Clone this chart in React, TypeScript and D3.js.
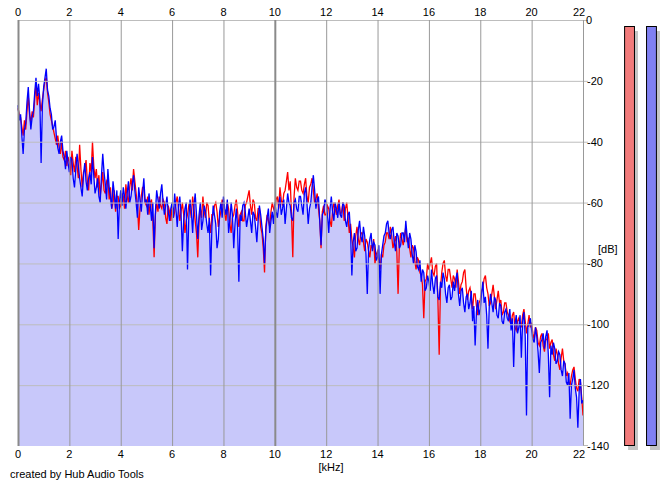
import React from "react";
import * as d3 from "d3";

// spectrum bins every 0.05 kHz, 0..22 kHz (one row = 1 kHz)
const STEP_KHZ = 0.05;

const blueDb = [
  -28, -33, -31, -38, -44, -36, -34, -27, -22, -30, -36, -32, -30, -24, -19, -25, -21, -26, -47, -28,
  -22, -19, -16, -23, -25, -29, -31, -36, -35, -33, -39, -42, -44, -40, -38, -43, -45, -49, -43, -47,
  -50, -45, -46, -52, -55, -49, -44, -48, -52, -55, -58, -51, -47, -53, -56, -52, -50, -54, -45, -51,
  -57, -55, -52, -58, -60, -51, -44, -50, -54, -59, -49, -55, -58, -62, -53, -57, -62, -56, -72, -60,
  -56, -61, -55, -58, -62, -57, -53, -60, -58, -54, -51, -56, -60, -65, -55, -59, -63, -57, -52, -60,
  -59, -64, -57, -61, -66, -60, -75, -63, -56, -59, -62, -57, -54, -60, -64, -61, -58, -63, -66, -62,
  -60, -65, -57, -62, -68, -61, -58, -64, -76, -66, -62, -60, -82, -65, -59, -63, -70, -61, -57, -64,
  -72, -64, -60, -69, -66, -61, -63, -67, -70, -65, -84, -68, -61, -64, -67, -75, -72, -63, -60, -65,
  -58, -62, -64, -59, -70, -66, -60, -64, -75, -67, -62, -68, -86, -64, -66, -61, -60, -63, -68, -65,
  -62, -66, -70, -63, -64, -68, -73, -66, -61, -64, -68, -72, -80, -69, -65, -62, -70, -66, -63, -67,
  -60, -63, -65, -61, -58, -64, -62, -59, -67, -62, -57, -60, -61, -65, -66, -60, -59, -62, -63, -58,
  -58, -61, -64, -57, -55, -60, -67, -62, -60, -55, -51, -56, -62, -59, -58, -66, -74, -64, -63, -59,
  -60, -64, -70, -62, -58, -63, -66, -60, -62, -65, -60, -64, -65, -60, -61, -66, -68, -64, -63, -70,
  -84, -73, -70, -76, -75, -69, -66, -71, -73, -68, -71, -77, -90, -75, -72, -70, -76, -73, -74, -79,
  -78, -74, -90, -77, -74, -71, -70, -67, -66, -70, -72, -69, -68, -73, -76, -70, -71, -75, -74, -70,
  -70, -73, -66, -71, -75, -70, -72, -77, -80, -74, -76, -81, -82, -79, -86, -82, -83, -89, -88, -84,
  -86, -89, -82, -87, -90, -85, -84, -91, -92, -86, -88, -83, -85, -90, -93, -88, -87, -92, -91, -86,
  -89, -85, -83, -90, -94, -89, -88, -93, -96, -91, -90, -95, -93, -89, -99, -94, -107, -96, -92, -97,
  -95, -90, -86, -93, -91, -97, -108, -94, -90, -93, -96, -91, -92, -97, -98, -93, -94, -99, -100, -96,
  -95, -98, -99, -95, -102, -98, -114, -100, -97, -103, -101, -97, -111, -99, -96, -104, -130, -101, -100, -98,
  -102, -105, -106, -101, -104, -109, -116, -106, -105, -103, -108, -104, -102, -110, -124, -107, -110, -106, -108, -113,
  -112, -109, -110, -115, -117, -112, -113, -119, -120, -116, -131, -120, -118, -115, -121, -124, -134, -122, -118, -126,
  -125,
];

const redDb = [
  -29, -31, -32, -35, -38, -33, -36, -30, -25, -31, -34, -30, -32, -26, -21, -28, -24, -27, -30, -26,
  -23, -20, -19, -24, -27, -31, -33, -35, -37, -39, -41, -38, -42, -44, -40, -45, -46, -43, -48, -45,
  -47, -51, -43, -47, -50, -45, -48, -52, -41, -49, -55, -50, -49, -46, -53, -56, -47, -50, -40, -48,
  -52, -49, -55, -51, -58, -54, -50, -56, -57, -53, -52, -59, -55, -62, -60, -56, -63, -58, -58, -62,
  -61, -57, -58, -62, -54, -58, -60, -55, -52, -56, -49, -53, -57, -61, -69, -62, -58, -55, -55, -60,
  -61, -58, -64, -60, -59, -66, -78, -64, -60, -63, -58, -61, -62, -59, -60, -65, -67, -61, -63, -66,
  -61, -65, -63, -60, -58, -62, -66, -63, -60, -64, -70, -66, -64, -61, -62, -65, -58, -62, -66, -70,
  -78, -66, -62, -65, -58, -63, -65, -60, -61, -66, -70, -64, -64, -61, -60, -63, -68, -65, -63, -59,
  -61, -64, -66, -60, -62, -67, -70, -65, -64, -61, -59, -63, -68, -64, -63, -66, -66, -61, -60, -58,
  -56, -61, -64, -59, -60, -65, -66, -62, -62, -68, -70, -75, -83, -68, -64, -66, -68, -63, -60, -62,
  -63, -59, -58, -62, -55, -59, -61, -57, -56, -53, -50, -56, -53, -64, -78, -58, -52, -55, -56, -53,
  -53, -56, -57, -54, -52, -58, -60, -55, -54, -52, -56, -60, -59, -57, -62, -66, -75, -63, -61, -64,
  -64, -61, -62, -66, -68, -63, -60, -62, -64, -61, -59, -64, -63, -60, -66, -62, -60, -65, -70, -67,
  -72, -75, -78, -71, -68, -72, -74, -70, -70, -73, -76, -72, -73, -76, -78, -74, -75, -72, -80, -77,
  -76, -79, -82, -77, -78, -74, -73, -70, -70, -72, -68, -71, -75, -73, -71, -76, -90, -74, -70, -72,
  -74, -71, -68, -73, -72, -75, -78, -74, -75, -79, -82, -78, -79, -83, -84, -87, -98, -86, -85, -80,
  -82, -80, -78, -83, -84, -81, -80, -92, -110, -88, -83, -80, -79, -84, -86, -82, -82, -85, -88, -84,
  -85, -88, -82, -86, -90, -87, -86, -83, -82, -88, -92, -89, -88, -91, -95, -90, -90, -94, -97, -93,
  -92, -89, -88, -85, -84, -88, -90, -94, -93, -90, -87, -91, -95, -92, -89, -93, -92, -97, -96, -93,
  -93, -96, -97, -99, -100, -97, -96, -101, -102, -99, -98, -100, -101, -97, -95, -99, -103, -100, -97, -101,
  -100, -103, -105, -101, -102, -106, -107, -104, -103, -107, -109, -105, -105, -103, -108, -106, -105, -110, -112, -108,
  -110, -113, -115, -111, -108, -112, -113, -117, -116, -119, -120, -117, -115, -114, -118, -121, -122, -118, -119, -124,
  -130,
];

const freqTicks = [0, 2, 4, 6, 8, 10, 12, 14, 16, 18, 20, 22];
const dbTicks = [0, -20, -40, -60, -80, -100, -120, -140];

// level meters on the right (full scale)
const levelBars = [
  { name: "L", fill: "#f27b7b" },
  { name: "R", fill: "#8080f2" },
];

const W = 665;
const H = 486;
const FONT = "'Liberation Sans', Arial, sans-serif";

export default function App() {
  const x = d3.scaleLinear().domain([0, 22]).range([18, 583]);
  const y = d3.scaleLinear().domain([0, -140]).range([20, 446]);

  const line = d3
    .line<number>()
    .x((_, i) => x(i * STEP_KHZ))
    .y((d) => y(d));

  const area = d3
    .area<number>()
    .x((_, i) => x(i * STEP_KHZ))
    .y0(y(-140))
    .y1((d) => y(d));

  const barX = d3
    .scaleBand()
    .domain(levelBars.map((b) => b.name))
    .range([623, 657])
    .paddingInner(0.55)
    .paddingOuter(0.05);

  return (
    <svg
      width={W}
      height={H}
      style={{ position: "absolute", left: 0, top: 0, background: "#fff" }}
      fontFamily={FONT}
      fontSize={11}
    >
      <rect width={W} height={H} fill="#fff" />
      <path d={area(blueDb) ?? ""} fill="#c8c8fa" />

      <path d={line(redDb) ?? ""} fill="none" stroke="#ff0000" strokeWidth={1.3} />
      <path d={line(blueDb) ?? ""} fill="none" stroke="#0000ff" strokeWidth={1.3} />

      {/* grid */}
      {dbTicks.slice(0, -1).map((t) => (
        <line key={"h" + t} x1={x(0)} x2={x(22) + 5} y1={y(t) + 0.5} y2={y(t) + 0.5} stroke="#bdbdbd" strokeWidth={1} />
      ))}
      {freqTicks.map((t) => (
        <line
          key={"v" + t}
          x1={x(t) + 0.5}
          x2={x(t) + 0.5}
          y1={y(0)}
          y2={y(-140)}
          stroke={t === 0 || t === 10 ? "#8a8a8a" : "#999"}
          strokeWidth={t === 0 || t === 10 ? 2 : 1}
        />
      ))}
      <line x1={x(22) + 0.5} x2={x(22) + 5} y1={y(-140) - 0.5} y2={y(-140) - 0.5} stroke="#bdbdbd" />

      {/* top and bottom frequency labels */}
      {freqTicks.map((t) => (
        <g key={"fl" + t}>
          <text x={x(t) + (t === 22 ? -4 : 0)} y={16} textAnchor="middle" fill="#000">
            {t}
          </text>
          <text x={x(t) + (t === 22 ? -4 : 0)} y={458} textAnchor="middle" fill="#000">
            {t}
          </text>
        </g>
      ))}

      {/* dB labels */}
      {dbTicks.map((t) => (
        <text key={"dl" + t} x={t === 0 ? 586 : 587} y={y(t) + 4} fill="#000">
          {t}
        </text>
      ))}
      <text x={598} y={253} fill="#000">[dB]</text>
      <text x={331} y={471} textAnchor="middle" fill="#000">[kHz]</text>
      <text x={10} y={478} fill="#000">created by Hub Audio Tools</text>

      {/* level meters */}
      {levelBars.map((b) => (
        <g key={b.name}>
          <rect x={barX(b.name)! + 4} y={31} width={barX.bandwidth()} height={419} fill="#c4c4c4" />
          <rect x={barX(b.name)! + 0.5} y={26.5} width={barX.bandwidth()} height={419} fill={b.fill} stroke="#000" strokeWidth={1} />
        </g>
      ))}
    </svg>
  );
}
